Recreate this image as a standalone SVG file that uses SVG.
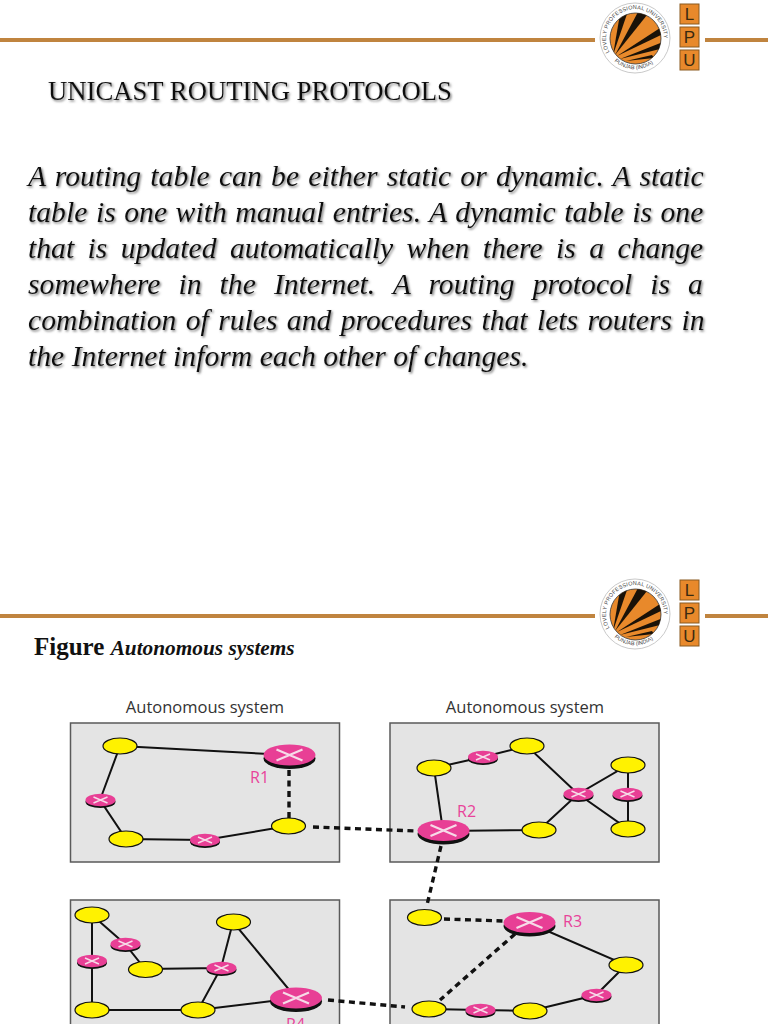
<svg xmlns="http://www.w3.org/2000/svg" width="768" height="1024" viewBox="0 0 768 1024">
<style>
.bar{fill:#c0843f}
.sh{filter:url(#ts);font-family:"Liberation Serif","Times New Roman",serif;fill:#111}
.body{font-size:29.7px;font-style:italic}
.cap{font-family:"Liberation Serif",serif;font-weight:bold;fill:#111}
.as{font-family:"Open Sans","Noto Sans",sans-serif;font-size:16.5px;fill:#333;text-anchor:middle}
.rl{font-family:"Open Sans","Noto Sans",sans-serif;font-size:16px;fill:#e8439a}
.box{fill:#e4e4e4;stroke:#5a5a5a;stroke-width:1.5}
.l{stroke:#111;stroke-width:2;fill:none}
.d{stroke:#111;stroke-width:3.4;stroke-dasharray:6 4.5;fill:none}
.lt{font-family:"Liberation Sans",sans-serif;font-size:5.5px;letter-spacing:.2px;fill:#444}
.lb{font-family:"Liberation Sans",sans-serif;font-size:5.5px;fill:#444}
.lp{font-family:"Liberation Sans",sans-serif;font-size:17px;fill:#3a2a10;text-anchor:middle}
</style>
<defs>
<filter id="ts" x="-5%" y="-20%" width="110%" height="140%"><feDropShadow dx="1.3" dy="1.5" stdDeviation="0.8" flood-color="#777"/></filter>
<clipPath id="cc"><circle cx="635.5" cy="38.5" r="25.5"/></clipPath>
<path id="arc1" d="M610 53A29 29 0 1 1 661 51"/>
<path id="arc2" d="M613 60A31 31 0 0 0 657 60"/>
<g id="logo">
<circle cx="635" cy="38" r="35" fill="#fff" stroke="#bbb" stroke-width="0.8"/>
<circle cx="635.5" cy="38.5" r="25.5" fill="#e8892b" stroke="#333" stroke-width="0.8"/>
<g clip-path="url(#cc)" fill="#1a1208">
<polygon points="613,55 620,14 627,14"/>
<polygon points="615,55 638,12 647,15"/>
<polygon points="617,56 660,28 663,34"/>
<polygon points="620,59 663,42 664,48"/>
<polygon points="626,61 652,55 654,58"/>
</g>
</g>
<g id="rb"><ellipse cy="3.5" rx="26" ry="10.5" fill="#111"/><ellipse rx="26" ry="10.5" fill="#e83f95"/><path d="M-13-5.5L13 5.5M-13 5.5L13-5.5" stroke="#f6dbe8" stroke-width="2.2"/></g>
<g id="rs"><ellipse cy="1.8" rx="15" ry="6.2" fill="#111"/><ellipse rx="15" ry="6.2" fill="#e83f95"/><path d="M-7-3L7 3M-7 3L7-3" stroke="#f6dbe8" stroke-width="1.5"/></g>
<ellipse id="y" rx="17" ry="8" fill="#fff200" stroke="#111" stroke-width="1.2"/>
</defs>
<rect width="768" height="1024" fill="#fff"/>

<g id="header-top">
<rect class="bar" x="0" y="38" width="595" height="4"/>
<rect class="bar" x="705" y="38" width="63" height="4"/>
<use href="#logo"/>
<text class="lt"><textPath href="#arc1" startOffset="1">LOVELY PROFESSIONAL UNIVERSITY</textPath></text>
<text class="lb"><textPath href="#arc2" startOffset="2">PUNJAB (INDIA)</textPath></text>
<g stroke="#8a5a20" fill="#e8892b"><rect x="680" y="4" width="19" height="20"/><rect x="680" y="27" width="19" height="20"/><rect x="680" y="50" width="19" height="20"/></g>
<text class="lp" x="689.5" y="20">L</text><text class="lp" x="689.5" y="43">P</text><text class="lp" x="689.5" y="66">U</text>
</g>

<text class="sh" x="48" y="100" font-size="26.7px">UNICAST ROUTING PROTOCOLS</text>
<g class="sh body">
<text x="28" y="185.5" word-spacing="1.8">A routing table can be either static or dynamic. A static</text>
<text x="28" y="221.5" word-spacing="1.1">table is one with manual entries. A dynamic table is one</text>
<text x="28" y="257.5" word-spacing="6">that is updated automatically when there is a change</text>
<text x="28" y="293.5" word-spacing="10.6">somewhere in the Internet. A routing protocol is a</text>
<text x="28" y="329.5" word-spacing="1.9">combination of rules and procedures that lets routers in</text>
<text x="28" y="365.5">the Internet inform each other of changes.</text>
</g>

<g id="header-bottom">
<rect class="bar" x="0" y="614" width="595" height="4"/>
<rect class="bar" x="705" y="614" width="63" height="4"/>
<use href="#logo" y="576"/>
<g transform="translate(0 576)">
<text class="lt"><textPath href="#arc1" startOffset="1">LOVELY PROFESSIONAL UNIVERSITY</textPath></text>
<text class="lb"><textPath href="#arc2" startOffset="2">PUNJAB (INDIA)</textPath></text>
<g stroke="#8a5a20" fill="#e8892b"><rect x="680" y="4" width="19" height="20"/><rect x="680" y="27" width="19" height="20"/><rect x="680" y="50" width="19" height="20"/></g>
<text class="lp" x="689.5" y="20">L</text><text class="lp" x="689.5" y="43">P</text><text class="lp" x="689.5" y="66">U</text>
</g>
</g>

<text class="cap" x="34" y="655" font-size="25px">Figure <tspan font-size="21.3px" font-style="italic">Autonomous systems</tspan></text>

<g id="as-boxes">
<rect class="box" x="70.5" y="723" width="269" height="139"/>
<rect class="box" x="390" y="723" width="269" height="139"/>
<rect class="box" x="70.5" y="900" width="269" height="140"/>
<rect class="box" x="390" y="900" width="269" height="140"/>
<text class="as" x="205" y="713">Autonomous system</text>
<text class="as" x="525" y="713">Autonomous system</text>
</g>

<g id="connectors">
<path class="l" d="M120 746L289 755M120 746L100 800L126 839L205 840L288 826"/>
<path class="l" d="M434 768L483 757L527 746L578 794L628 765V829L578 794L539 830L443 831L434 768"/>
<path class="l" d="M92 915V1010H198L296 998L233 922L221 968L198 1010M92 915L125 944L145 969L221 968"/>
<path class="l" d="M529 923L626 965L596 995L530 1011L480 1010L429 1009"/>
<path class="d" d="M289 770V818M313 827L416 831M441 846L427 905M444 919L503 921M515 934L440 1000M328 1000L405 1007"/>
</g>

<g id="n1"><use href="#y" x="120" y="746"/></g>
<g id="R1"><use href="#rb" x="289.5" y="755"/><text class="rl" x="250" y="783">R1</text></g>
<g id="n2"><use href="#rs" x="100.5" y="800"/></g>
<g id="n3"><use href="#y" x="126" y="839"/></g>
<g id="n4"><use href="#rs" x="205" y="840"/></g>
<g id="n5"><use href="#y" x="288.5" y="826"/></g>

<g id="n6"><use href="#y" x="434" y="768"/></g>
<g id="n7"><use href="#rs" x="483" y="757"/></g>
<g id="n8"><use href="#y" x="527" y="746"/></g>
<g id="n9"><use href="#rs" x="578.5" y="794"/></g>
<g id="n10"><use href="#y" x="628" y="765"/></g>
<g id="n11"><use href="#rs" x="627.5" y="794"/></g>
<g id="n12"><use href="#y" x="628" y="829"/></g>
<g id="n13"><use href="#y" x="539" y="830"/></g>
<g id="R2"><use href="#rb" x="443.5" y="830.5"/><text class="rl" x="457" y="817">R2</text></g>

<g id="n14"><use href="#y" x="92" y="915"/></g>
<g id="n15"><use href="#rs" x="125.5" y="944"/></g>
<g id="n16"><use href="#rs" x="92" y="961"/></g>
<g id="n17"><use href="#y" x="145.5" y="969.5"/></g>
<g id="n18"><use href="#rs" x="221.5" y="968"/></g>
<g id="n19"><use href="#y" x="233.5" y="922"/></g>
<g id="n20"><use href="#y" x="92" y="1010"/></g>
<g id="n21"><use href="#y" x="198" y="1010"/></g>
<g id="R4"><use href="#rb" x="296" y="998"/><text class="rl" x="286" y="1030">R4</text></g>

<g id="n22"><use href="#y" x="424.5" y="917.5"/></g>
<g id="R3"><use href="#rb" x="529.5" y="922.5"/><text class="rl" x="563" y="927">R3</text></g>
<g id="n23"><use href="#y" x="626" y="965"/></g>
<g id="n24"><use href="#rs" x="596.5" y="995"/></g>
<g id="n25"><use href="#y" x="530" y="1011"/></g>
<g id="n26"><use href="#rs" x="480.5" y="1010"/></g>
<g id="n27"><use href="#y" x="429" y="1009"/></g>
</svg>
